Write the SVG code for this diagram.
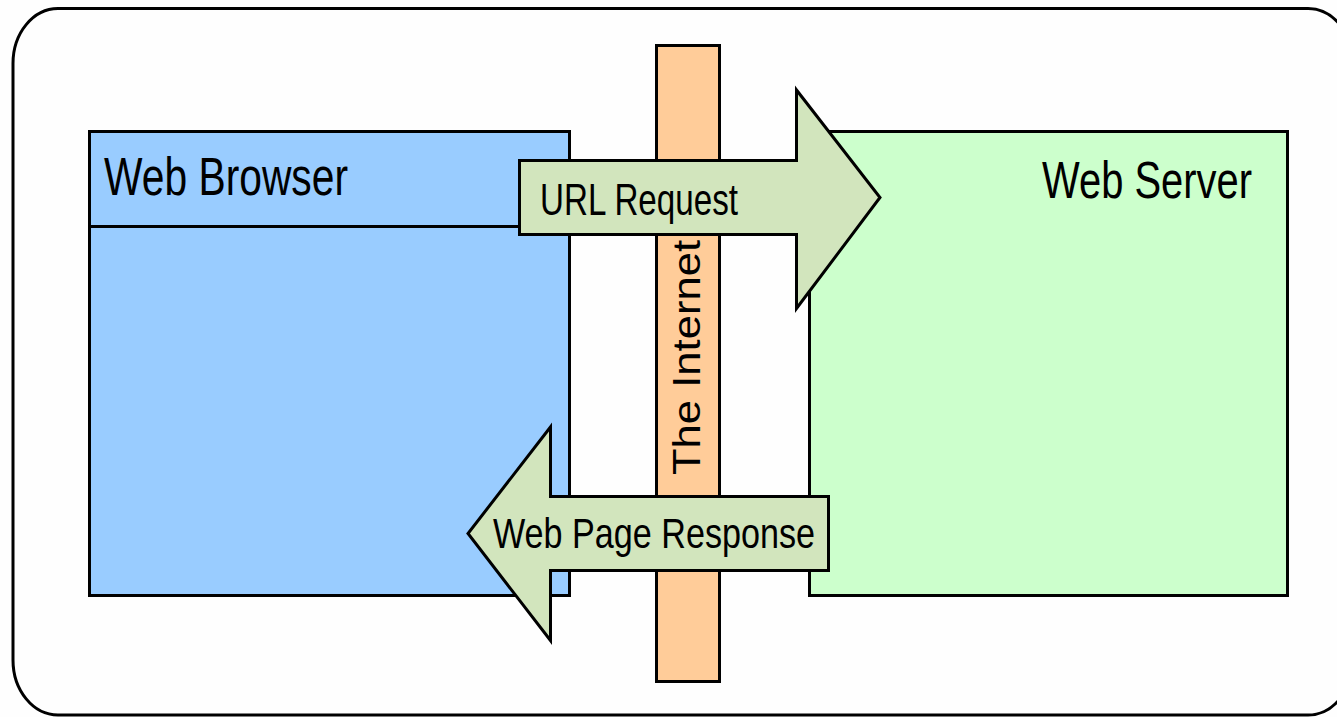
<svg xmlns="http://www.w3.org/2000/svg" width="1337" height="717" viewBox="0 0 1337 717">
  <style>
    .box { stroke: #000; stroke-width: 3; }
    .lbl { font-family: "Liberation Sans", Arial, sans-serif; fill: #000; }
    .arrow { fill: #d2e5bd; stroke: #000; stroke-width: 3; stroke-linejoin: miter; }
  </style>
  <rect width="1337" height="717" fill="#fefefe"/>

  <!-- outer rounded frame -->
  <rect x="13" y="8.5" width="1340" height="706.5" rx="45" ry="55" fill="none" stroke="#000" stroke-width="3"/>

  <g id="web-browser">
    <rect class="box" x="89.5" y="131.5" width="480" height="464" fill="#99ccff"/>
    <line x1="89.5" y1="226.5" x2="569.5" y2="226.5" stroke="#000" stroke-width="3"/>
    <text class="lbl" x="104" y="195" font-size="54" textLength="244" lengthAdjust="spacingAndGlyphs">Web Browser</text>
  </g>

  <g id="web-server">
    <rect class="box" x="809.5" y="131.5" width="478" height="464" fill="#ccffcc"/>
    <text class="lbl" x="1042" y="198" font-size="52" textLength="210" lengthAdjust="spacingAndGlyphs">Web Server</text>
  </g>

  <g id="internet">
    <rect class="box" x="656.5" y="45.5" width="63" height="636" fill="#ffcc99"/>
    <text class="lbl" transform="translate(700,475) rotate(-90)" x="0" y="0" font-size="38" textLength="235" lengthAdjust="spacingAndGlyphs">The Internet</text>
  </g>

  <g id="connectors">
    <g id="url-request">
      <polygon class="arrow" points="519.5,160.5 796.5,160.5 796.5,90 880,197.5 796.5,308.5 796.5,234.5 519.5,234.5"/>
      <text class="lbl" x="540" y="215" font-size="44" textLength="198" lengthAdjust="spacingAndGlyphs">URL Request</text>
    </g>
    <g id="web-page-response">
      <polygon class="arrow" points="828.5,496.5 550.5,496.5 550.5,427 468,533.5 550.5,640.5 550.5,570.5 828.5,570.5"/>
      <text class="lbl" x="493" y="548" font-size="43" textLength="322" lengthAdjust="spacingAndGlyphs">Web Page Response</text>
    </g>
  </g>
</svg>
